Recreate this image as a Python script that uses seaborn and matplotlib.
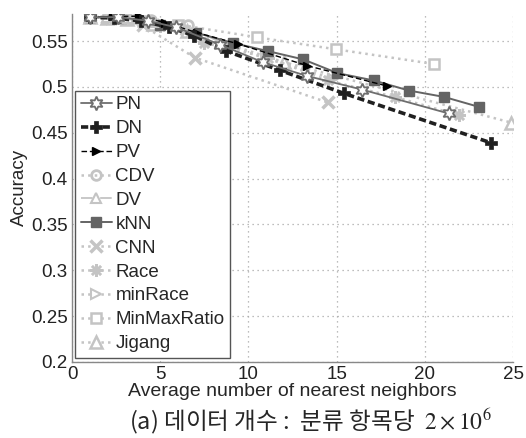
import matplotlib
matplotlib.use("Agg")
import matplotlib.pyplot as plt
import seaborn as sns
import pandas as pd

sns.set_style("white")
plt.rcParams['font.family'] = ['Liberation Sans', 'DejaVu Sans']
plt.rcParams['mathtext.fontset'] = 'stix'

# ---- data ----
pn_x = [1.0, 2.6, 4.3, 5.9, 8.4, 10.8, 13.3, 16.45, 21.35]
pn_y = [0.576, 0.576, 0.572, 0.565, 0.546, 0.527, 0.512, 0.497, 0.471]

dn_x = [1.0, 2.4, 3.9, 5.5, 6.9, 8.75, 11.8, 15.4, 23.75]
dn_y = [0.576, 0.575, 0.572, 0.565, 0.556, 0.539, 0.518, 0.493, 0.439]

pv_x = [1.0, 2.3, 3.8, 5.3, 7.1, 9.4, 13.35, 17.85]
pv_y = [0.576, 0.577, 0.577, 0.570, 0.559, 0.547, 0.523, 0.501]

cdv_x = [1.0, 2.7, 4.5, 6.6]
cdv_y = [0.576, 0.577, 0.573, 0.567]

dv_x = [1.0, 2.0, 3.2, 4.6, 6.3]
dv_y = [0.576, 0.576, 0.575, 0.571, 0.566]

knn_x = [1.0, 2.8, 5.0, 7.05, 9.1, 11.1, 13.1, 15.05, 17.1, 19.1, 21.1, 23.1]
knn_y = [0.576, 0.575, 0.568, 0.559, 0.548, 0.539, 0.530, 0.515, 0.507, 0.496, 0.489, 0.478]

cnn_x = [1.0, 2.2, 4.0, 6.95, 14.5]
cnn_y = [0.576, 0.575, 0.567, 0.532, 0.483]

race_x = [1.0, 2.0, 3.3, 5.0, 7.5, 11.1, 14.5, 18.3, 21.95]
race_y = [0.576, 0.575, 0.574, 0.566, 0.548, 0.532, 0.507, 0.489, 0.469]

minrace_x = [1.0, 2.1, 3.5, 5.2, 8.0, 11.0, 14.8]
minrace_y = [0.576, 0.576, 0.574, 0.567, 0.550, 0.531, 0.509]

mmr_x = [1.0, 2.5, 4.0, 6.0, 10.5, 14.95, 20.5]
mmr_y = [0.576, 0.575, 0.572, 0.568, 0.554, 0.541, 0.525]

jig_x = [1.0, 2.0, 3.1, 4.6, 6.5, 12.0, 24.9]
jig_y = [0.576, 0.575, 0.574, 0.569, 0.561, 0.527, 0.461]

x_ticks = [0, 5, 10, 15, 20, 25]
y_ticks = [0.2, 0.25, 0.3, 0.35, 0.4, 0.45, 0.5, 0.55]
x_label = "Average number of nearest neighbors"
y_label = "Accuracy"
caption = "(a) 데이터 개수 :  분류 항목당  $2\\times10^6$"

LG = '#c4c4c4'
series = [
    ("PN", pn_x, pn_y, dict(color='#6e6e6e', ls='-', lw=1.3, marker=(6, 1, 0), ms=10, mfc='white', mec='#6e6e6e', mew=1.3)),
    ("DN", dn_x, dn_y, dict(color='#202020', ls=(0, (2.0, 1.0)), lw=2.6, marker='P', ms=8.5, mfc='#202020', mec='#202020', mew=0.5)),
    ("PV", pv_x, pv_y, dict(color='#000000', ls=(0, (4, 2)), lw=1.0, marker='>', ms=6, mfc='black', mec='black')),
    ("CDV", cdv_x, cdv_y, dict(color=LG, ls=':', lw=1.8, marker='o', ms=7, mfc='none', mec=LG, mew=2)),
    ("DV", dv_x, dv_y, dict(color=LG, ls='-.', lw=1.3, marker='^', ms=7, mfc='white', mec=LG, mew=1.5)),
    ("kNN", knn_x, knn_y, dict(color='#646464', ls='-', lw=1.4, marker='s', ms=7, mfc='#646464', mec='#646464')),
    ("CNN", cnn_x, cnn_y, dict(color=LG, ls=':', lw=1.8, marker='x', ms=9, mec=LG, mew=2.5)),
    ("Race", race_x, race_y, dict(color=LG, ls=':', lw=1.8, marker=(8, 2, 0), ms=9, mec=LG, mew=1.8)),
    ("minRace", minrace_x, minrace_y, dict(color=LG, ls=':', lw=1.8, marker='>', ms=7, mfc='white', mec=LG, mew=1.5)),
    ("MinMaxRatio", mmr_x, mmr_y, dict(color=LG, ls=':', lw=1.8, marker='s', ms=7, mfc='white', mec=LG, mew=1.8)),
    ("Jigang", jig_x, jig_y, dict(color=LG, ls=':', lw=1.8, marker='^', ms=9, mfc='white', mec=LG, mew=1.8)),
]

fig = plt.figure(figsize=(5.26, 4.38), dpi=100)
ax = fig.add_axes([72/526, 1-362/438, (513-72)/526, (362-13.5)/438])

# draw in reverse so that dark series sit on top
for name, xs, ys, st in reversed(series):
    df = pd.DataFrame({"x": xs, "y": ys})
    st = dict(st)
    sns.lineplot(data=df, x="x", y="y", ax=ax, sort=False, label=name,
                 color=st.pop('color'), linestyle=st.pop('ls'), linewidth=st.pop('lw'),
                 marker=st.pop('marker'), markersize=st.pop('ms'),
                 markerfacecolor=st.pop('mfc', None), markeredgecolor=st.pop('mec'),
                 markeredgewidth=st.pop('mew', 1.0), legend=False)

FS = 13.5
ax.set_xlim(0, 25)
ax.set_ylim(0.2, 0.58)
ax.set_xticks(x_ticks)
ax.set_yticks(y_ticks)
ax.set_xticklabels([str(t) for t in x_ticks])
ax.set_yticklabels(["0.2", "0.25", "0.3", "0.35", "0.4", "0.45", "0.5", "0.55"])
ax.tick_params(labelsize=FS, length=3, direction='in', colors='#222222', pad=3)
ax.grid(True, linestyle=(0, (1, 3)), color='#a8a8a8', linewidth=0.9)
for s in ['top', 'right']:
    ax.spines[s].set_visible(False)
for s in ['left', 'bottom']:
    ax.spines[s].set_color('#888888')
    ax.spines[s].set_linewidth(1.0)

ax.set_xlabel(x_label, fontsize=14, labelpad=0)
ax.set_ylabel(y_label, fontsize=FS, labelpad=2)

handles, labels = ax.get_legend_handles_labels()
order = [n for n, *_ in series]
hmap = dict(zip(labels, handles))
leg = ax.legend([hmap[n] for n in order], order, loc='lower left',
                bbox_to_anchor=(0.007, 0.012), fontsize=FS, frameon=True,
                fancybox=False, framealpha=1, edgecolor='#555555',
                handlelength=1.65, handletextpad=0.2, labelspacing=0.36,
                borderpad=0.3, borderaxespad=0)
leg.get_frame().set_linewidth(1.0)

fig.text(0.59, 0.039, caption, ha='center', va='center', fontsize=17,
         family=['Noto Sans CJK KR', 'DejaVu Sans'])

fig.savefig("out.png", dpi=100)
